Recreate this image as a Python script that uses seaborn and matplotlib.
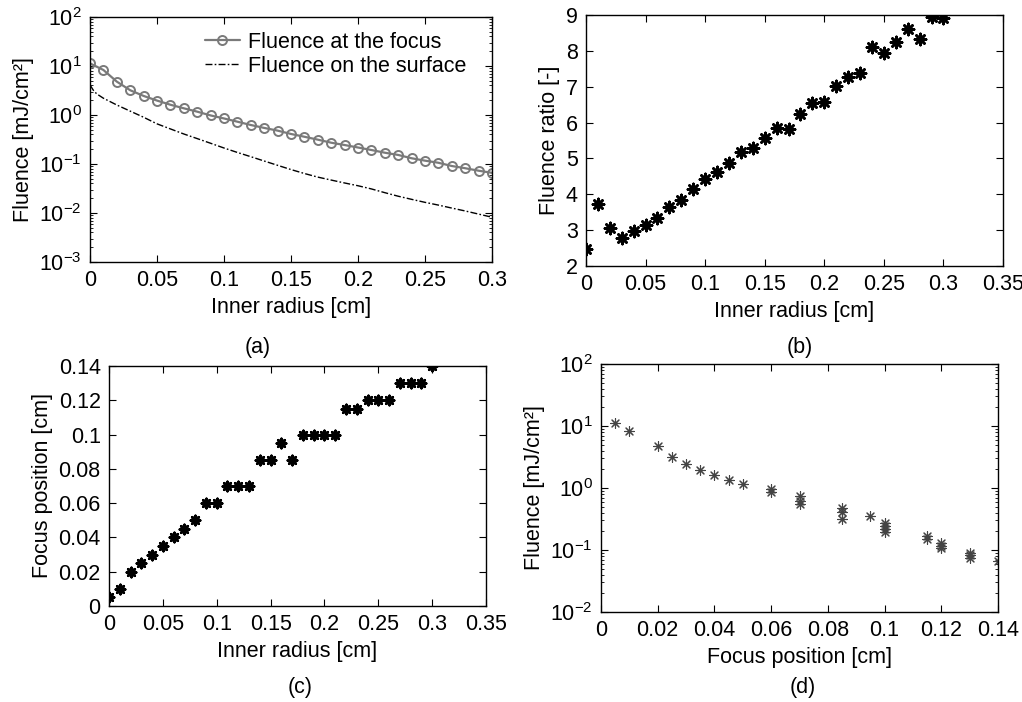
import matplotlib
matplotlib.use('Agg')
import matplotlib.pyplot as plt
import seaborn as sns
from matplotlib.ticker import FuncFormatter, LogLocator, MultipleLocator, NullFormatter

# Values
inner_radius = [0.00, 0.01, 0.02, 0.03, 0.04, 0.05, 0.06, 0.07, 0.08, 0.09, 0.10,
                0.11, 0.12, 0.13, 0.14, 0.15, 0.16, 0.17, 0.18, 0.19, 0.20,
                0.21, 0.22, 0.23, 0.24, 0.25, 0.26, 0.27, 0.28, 0.29, 0.30]

# (a) fluence at the focus [mJ/cm2]
fluence_focus = [11.3, 8.3, 4.8, 3.2, 2.45, 1.97, 1.62, 1.37, 1.17, 0.98, 0.85,
                 0.73, 0.625, 0.545, 0.48, 0.41, 0.36, 0.314, 0.272, 0.244, 0.217,
                 0.193, 0.17, 0.153, 0.131, 0.117, 0.106, 0.091, 0.082, 0.073, 0.066]

# (a) fluence on the surface [mJ/cm2]
surface_radius = [0.0, 0.0025, 0.005, 0.01, 0.02, 0.03, 0.04, 0.05, 0.06, 0.07, 0.08,
                  0.09, 0.10, 0.11, 0.12, 0.13, 0.14, 0.15, 0.16, 0.17, 0.18, 0.19,
                  0.20, 0.21, 0.22, 0.23, 0.24, 0.25, 0.26, 0.27, 0.28, 0.29, 0.30]
fluence_surface = [4.1, 3.2, 2.7, 2.2, 1.6, 1.2, 0.9, 0.66, 0.52, 0.41, 0.33,
                   0.265, 0.212, 0.172, 0.141, 0.115, 0.094, 0.077, 0.064, 0.054, 0.047, 0.041,
                   0.036, 0.031, 0.026, 0.022, 0.019, 0.0165, 0.0145, 0.0126, 0.011, 0.0095, 0.0082]

# (b) fluence ratio [-]
fluence_ratio = [2.48, 3.74, 3.06, 2.78, 2.97, 3.13, 3.35, 3.65, 3.85, 4.14, 4.44,
                 4.61, 4.86, 5.18, 5.30, 5.58, 5.86, 5.82, 6.23, 6.55, 6.58,
                 7.02, 7.28, 7.37, 8.12, 7.95, 8.24, 8.60, 8.33, 8.95, 8.93]

# (c) focus position [cm]
focus_position = [0.005, 0.010, 0.020, 0.025, 0.030, 0.035, 0.040, 0.045, 0.050, 0.060, 0.060,
                  0.070, 0.070, 0.070, 0.085, 0.085, 0.095, 0.085, 0.100, 0.100, 0.100,
                  0.100, 0.115, 0.115, 0.120, 0.120, 0.120, 0.130, 0.130, 0.130, 0.140]

sns.set_style('ticks')
plt.rcParams['font.family'] = ['Liberation Sans', 'DejaVu Sans']
plt.rcParams['mathtext.default'] = 'regular'
plt.rcParams['text.color'] = 'k'
plt.rcParams['axes.labelcolor'] = 'k'
FS = 15.5

fig = plt.figure(figsize=(10.22, 7.02), dpi=100)
W, H = 1022, 702


def box_axes(l, r, t, b):
    return fig.add_axes([l / W, 1 - b / H, (r - l) / W, (b - t) / H])


def matlab_style(ax):
    ax.tick_params(which='both', direction='in', top=True, right=True,
                   colors='k', labelsize=FS, pad=6)
    ax.tick_params(which='major', length=5, width=0.8)
    ax.tick_params(which='minor', length=2.5, width=0.6)
    for s in ax.spines.values():
        s.set_visible(True)
        s.set_color('k')
        s.set_linewidth(1.0)


fmt = FuncFormatter(lambda v, p: '%g' % round(v, 4))

# (a)
ax = box_axes(90, 492, 17, 262)
sns.lineplot(x=inner_radius, y=fluence_focus, ax=ax, color='#7a7a7a', linewidth=1.6,
             marker='o', markersize=6.5, markerfacecolor='none',
             markeredgecolor='#7a7a7a', markeredgewidth=1.4, label='Fluence at the focus')
sns.lineplot(x=surface_radius, y=fluence_surface, ax=ax, color='k', linewidth=1.0,
             label='Fluence on the surface')
ax.lines[-1].set_linestyle((0, (5, 1.6, 1.2, 1.6)))
ax.set_yscale('log')
ax.set_xlim(0, 0.3)
ax.set_ylim(1e-3, 1e2)
ax.xaxis.set_major_locator(MultipleLocator(0.05))
ax.xaxis.set_major_formatter(fmt)
ax.yaxis.set_major_locator(LogLocator(base=10, numticks=10))
ax.yaxis.set_minor_locator(LogLocator(base=10, subs=range(2, 10), numticks=20))
ax.yaxis.set_minor_formatter(NullFormatter())
ax.set_xlabel('Inner radius [cm]', fontsize=FS)
ax.set_ylabel('Fluence [mJ/cm²]', fontsize=FS)
ax.legend(loc='upper right', bbox_to_anchor=(0.958, 0.975), frameon=False, fontsize=FS,
          handlelength=1.6, handletextpad=0.4, labelspacing=0.15, borderaxespad=0)
matlab_style(ax)

# (b)
ax = box_axes(586, 1003, 15, 266)
sns.scatterplot(x=inner_radius, y=fluence_ratio, ax=ax, marker=(8, 2, 0), s=65,
                color='k', linewidth=1.9)
ax.set_xlim(0, 0.35)
ax.set_ylim(2, 9)
ax.xaxis.set_major_locator(MultipleLocator(0.05))
ax.xaxis.set_major_formatter(fmt)
ax.yaxis.set_major_locator(MultipleLocator(1))
ax.set_xlabel('Inner radius [cm]', fontsize=FS)
ax.set_ylabel('Fluence ratio [-]', fontsize=FS)
matlab_style(ax)

# (c)
ax = box_axes(109, 486, 366, 606)
sns.scatterplot(x=inner_radius, y=focus_position, ax=ax, marker=(8, 2, 0), s=45,
                color='k', linewidth=1.9)
ax.set_xlim(0, 0.35)
ax.set_ylim(0, 0.14)
ax.xaxis.set_major_locator(MultipleLocator(0.05))
ax.xaxis.set_major_formatter(fmt)
ax.yaxis.set_major_locator(MultipleLocator(0.02))
ax.yaxis.set_major_formatter(fmt)
ax.set_xlabel('Inner radius [cm]', fontsize=FS)
ax.set_ylabel('Focus position [cm]', fontsize=FS)
matlab_style(ax)

# (d)
ax = box_axes(601, 998, 364, 612)
sns.scatterplot(x=focus_position, y=fluence_focus, ax=ax, marker=(8, 2, 0), s=50,
                color='#444444', linewidth=0.8)
ax.set_yscale('log')
ax.set_xlim(0, 0.14)
ax.set_ylim(1e-2, 1e2)
ax.xaxis.set_major_locator(MultipleLocator(0.02))
ax.xaxis.set_major_formatter(fmt)
ax.yaxis.set_major_locator(LogLocator(base=10, numticks=10))
ax.yaxis.set_minor_locator(LogLocator(base=10, subs=range(2, 10), numticks=20))
ax.yaxis.set_minor_formatter(NullFormatter())
ax.set_xlabel('Focus position [cm]', fontsize=FS)
ax.set_ylabel('Fluence [mJ/cm²]', fontsize=FS)
matlab_style(ax)

for lab, x, y in [('(a)', 258, 348), ('(b)', 800, 348), ('(c)', 300, 688), ('(d)', 803, 688)]:
    fig.text(x / W, 1 - y / H, lab, ha='center', va='center', fontsize=FS)

fig.savefig('out.png', dpi=100)
